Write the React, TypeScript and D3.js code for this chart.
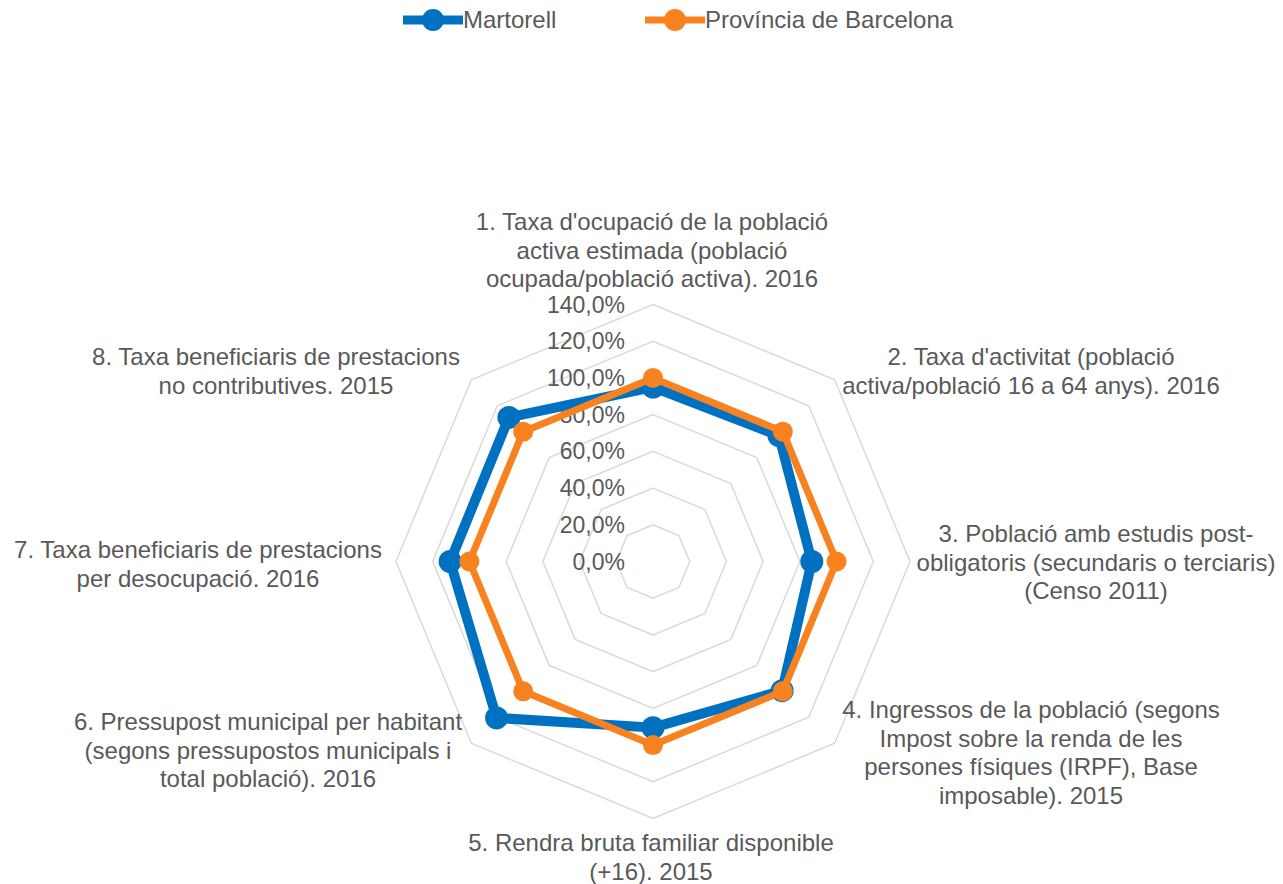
import React, { useRef, useEffect } from "react";
import * as d3 from "d3";

// axis labels, one array of lines per category (clockwise from top)
const categories: string[][] = [
  ["1. Taxa d'ocupació de la població", "activa estimada (població", "ocupada/població activa). 2016"],
  ["2. Taxa d'activitat (població", "activa/població 16 a 64 anys). 2016"],
  ["3. Població amb estudis post-", "obligatoris (secundaris o terciaris)", "(Censo 2011)"],
  ["4. Ingressos de la població (segons", "Impost sobre la renda de les", "persones físiques (IRPF), Base", "imposable). 2015"],
  ["5. Rendra bruta familiar disponible", "(+16). 2015"],
  ["6. Pressupost municipal per habitant", "(segons pressupostos municipals i", "total població). 2016"],
  ["7. Taxa beneficiaris de prestacions", "per desocupació. 2016"],
  ["8. Taxa beneficiaris de prestacions", "no contributives. 2015"],
];

const martorell = [95, 97, 86.5, 99.5, 90.5, 120.5, 110.5, 111];
const provincia = [100, 100, 100, 100, 100, 100, 100, 100];

const tickValues = [0, 20, 40, 60, 80, 100, 120, 140];

const seriesNames = ["Martorell", "Província de Barcelona"];
const seriesColors = ["#0070C0", "#F7821F"];

// label anchor (centre x, first baseline y)
const labelAnchors = [
  [652, 230], [1031, 365], [1096, 542], [1031, 718],
  [651, 851], [268, 730], [198, 558], [276, 365],
];

const App = () => {
  const ref = useRef<SVGSVGElement>(null);

  useEffect(() => {
    const svg = d3.select(ref.current);
    svg.selectAll("*").remove();

    const width = 1283;
    const height = 884;
    const cx = 653;
    const cy = 561.5;
    const font = "'Liberation Sans', Arial, sans-serif";
    const textColor = "#595959";

    svg.attr("width", width).attr("height", height).style("background", "#fff");

    const r = d3.scaleLinear().domain([0, 140]).range([0, 257]);
    const angle = (i: number) => (i * 2 * Math.PI) / categories.length;

    const g = svg.append("g").attr("transform", `translate(${cx},${cy})`);

    // grid octagons
    const ringLine = d3
      .lineRadial<number>()
      .angle((_, i) => angle(i))
      .radius(d => r(d))
      .curve(d3.curveLinearClosed);

    tickValues.filter(t => t > 0).forEach(t => {
      g.append("path")
        .attr("d", ringLine(categories.map(() => t)))
        .attr("fill", "none")
        .attr("stroke", "#D9D9D9")
        .attr("stroke-width", 1.5);
    });

    // tick labels
    g.selectAll(".tick")
      .data(tickValues)
      .enter()
      .append("text")
      .attr("x", -28)
      .attr("y", d => -r(d))
      .attr("dy", "0.35em")
      .attr("text-anchor", "end")
      .style("font-family", font)
      .style("font-size", "23px")
      .style("fill", textColor)
      .text(d => d3.format(".1f")(d).replace(".", ",") + "%");

    // category labels
    categories.forEach((lines, i) => {
      const [x, y] = labelAnchors[i];
      const t = svg.append("text")
        .attr("text-anchor", "middle")
        .style("font-family", font)
        .style("font-size", "24px")
        .style("fill", textColor);
      lines.forEach((line, j) => {
        t.append("tspan").attr("x", x).attr("y", y + j * 28.7).text(line);
      });
    });

    // series
    const seriesLine = d3
      .lineRadial<number>()
      .angle((_, i) => angle(i))
      .radius(d => r(d))
      .curve(d3.curveLinearClosed);

    const allSeries = [martorell, provincia];
    const strokeW = [10, 7];
    const markerR = [11.5, 10];

    allSeries.forEach((values, s) => {
      g.append("path")
        .attr("d", seriesLine(values))
        .attr("fill", "none")
        .attr("stroke", seriesColors[s])
        .attr("stroke-width", strokeW[s])
        .attr("stroke-linejoin", "round");

      g.selectAll(`.pt-${s}`)
        .data(values)
        .enter()
        .append("circle")
        .attr("cx", (d, i) => r(d) * Math.sin(angle(i)))
        .attr("cy", (d, i) => -r(d) * Math.cos(angle(i)))
        .attr("r", markerR[s])
        .attr("fill", seriesColors[s]);
    });

    // legend
    const legendX = [403, 645];
    seriesNames.forEach((name, s) => {
      const lg = svg.append("g").attr("transform", `translate(${legendX[s]},20)`);
      lg.append("line")
        .attr("x1", 0).attr("x2", 60)
        .attr("stroke", seriesColors[s])
        .attr("stroke-width", s === 0 ? 9 : 7);
      lg.append("circle").attr("cx", 30).attr("r", 11).attr("fill", seriesColors[s]);
      lg.append("text")
        .attr("x", 60)
        .attr("dy", "0.35em")
        .style("font-family", font)
        .style("font-size", "24px")
        .style("fill", textColor)
        .text(name);
    });
  }, []);

  return (
    <div style={{ position: "absolute", left: 0, top: 0 }}>
      <svg ref={ref}></svg>
    </div>
  );
};

export default App;
